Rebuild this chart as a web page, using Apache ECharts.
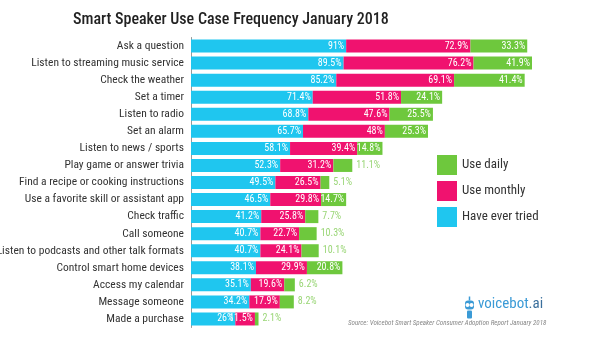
<!DOCTYPE html>
<html><head><meta charset="utf-8">
<script src="https://cdn.jsdelivr.net/npm/echarts@6/dist/echarts.min.js"></script>
<style>html,body{margin:0;padding:0;background:#fff}#c{width:600px;height:342px}</style>
</head><body><div id="c"></div>
<script>
const categories = ["Ask a question","Listen to streaming music service","Check the weather","Set a timer","Listen to radio","Set an alarm","Listen to news / sports","Play game or answer trivia","Find a recipe or cooking instructions","Use a favorite skill or assistant app","Check traffic","Call someone","Listen to podcasts and other talk formats","Control smart home devices","Access my calendar","Message someone","Made a purchase"];
const everTried = [91,89.5,85.2,71.4,68.8,65.7,58.1,52.3,49.5,46.5,41.2,40.7,40.7,38.1,35.1,34.2,26];
const useMonthly = [72.9,76.2,69.1,51.8,47.6,48,39.4,31.2,26.5,29.8,25.8,22.7,24.1,29.9,19.6,17.9,11.5];
const useDaily = [33.3,41.9,41.4,24.1,25.5,25.3,14.8,11.1,5.1,14.7,7.7,10.3,10.1,20.8,6.2,8.2,2.1];

const FONT = "'Roboto Condensed',Roboto,sans-serif";
const BLUE = '#1fc6ef', PINK = '#f0126f', GREEN = '#6ec83d';
const chart = echarts.init(document.getElementById('c'));
const inLabel = {show:true, position:'insideRight', color:'#fff', fontSize:10, fontFamily:FONT, distance:2, formatter: p => p.value + '%'};
const dailyData = useDaily.map(v => v < 12 ? {value:v, label:{position:'right', color:'#9ad677', distance:4}} : v);
chart.setOption({
  animation:false,
  title:{text:'Smart Speaker Use Case Frequency January 2018', left:68, top:7, textStyle:{fontFamily:FONT, fontSize:16, fontWeight:500, color:'#222'}},
  legend:{orient:'vertical', left:432, top:150, itemWidth:20, itemHeight:20, itemGap:6, icon:'rect',
    data:['Use daily','Use monthly','Have ever tried'], textStyle:{fontFamily:FONT, fontSize:13, color:'#333', padding:[0,0,0,0]}},
  grid:{left:191, top:37.5, bottom:14.5, right:68, containLabel:false, outerBoundsMode:'none'},
  xAxis:{type:'value', min:0, max:200, show:false},
  yAxis:{type:'category', data:categories, inverse:true, axisTick:{show:false},
    axisLine:{lineStyle:{color:'#999'}}, axisLabel:{fontFamily:FONT, fontSize:11.5, color:'#333', margin:7}},
  series:[
    {name:'Have ever tried', type:'bar', stack:'a', data:everTried, barWidth:13, itemStyle:{color:BLUE}, label:inLabel},
    {name:'Use monthly', type:'bar', stack:'a', data:useMonthly, barWidth:13, itemStyle:{color:PINK}, label:inLabel},
    {name:'Use daily', type:'bar', stack:'a', data:dailyData, barWidth:13, itemStyle:{color:GREEN}, label:inLabel}
  ],
  graphic:[
    {type:'text', left:348, top:320, style:{text:'Source: Voicebot Smart Speaker Consumer Adoption Report January 2018', fontFamily:FONT, fontStyle:'italic', fontSize:7, fill:'#888'}},
    {type:'text', left:478, top:297, style:{text:'{a|voicebot}{b|.ai}', rich:{a:{fontFamily:FONT, fontSize:15, fill:'#3a9ad6'}, b:{fontFamily:FONT, fontSize:15, fill:'#3a6f9c'}}}},
    {type:'group', left:465, top:294, children:[
      {type:'rect', shape:{x:3, y:4, width:9, height:9, r:3}, style:{fill:'#3a9ad6'}},
      {type:'circle', shape:{cx:5.5, cy:8.5, r:2}, style:{fill:'#fff'}},
      {type:'circle', shape:{cx:9.5, cy:8.5, r:2}, style:{fill:'#fff'}},
      {type:'rect', shape:{x:5, y:14, width:5, height:8, r:1}, style:{fill:'#3a9ad6'}},
      {type:'line', shape:{x1:7.5, y1:0, x2:7.5, y2:4}, style:{stroke:'#3a9ad6', lineWidth:1.5}}
    ]}
  ]
});
</script></body></html>
